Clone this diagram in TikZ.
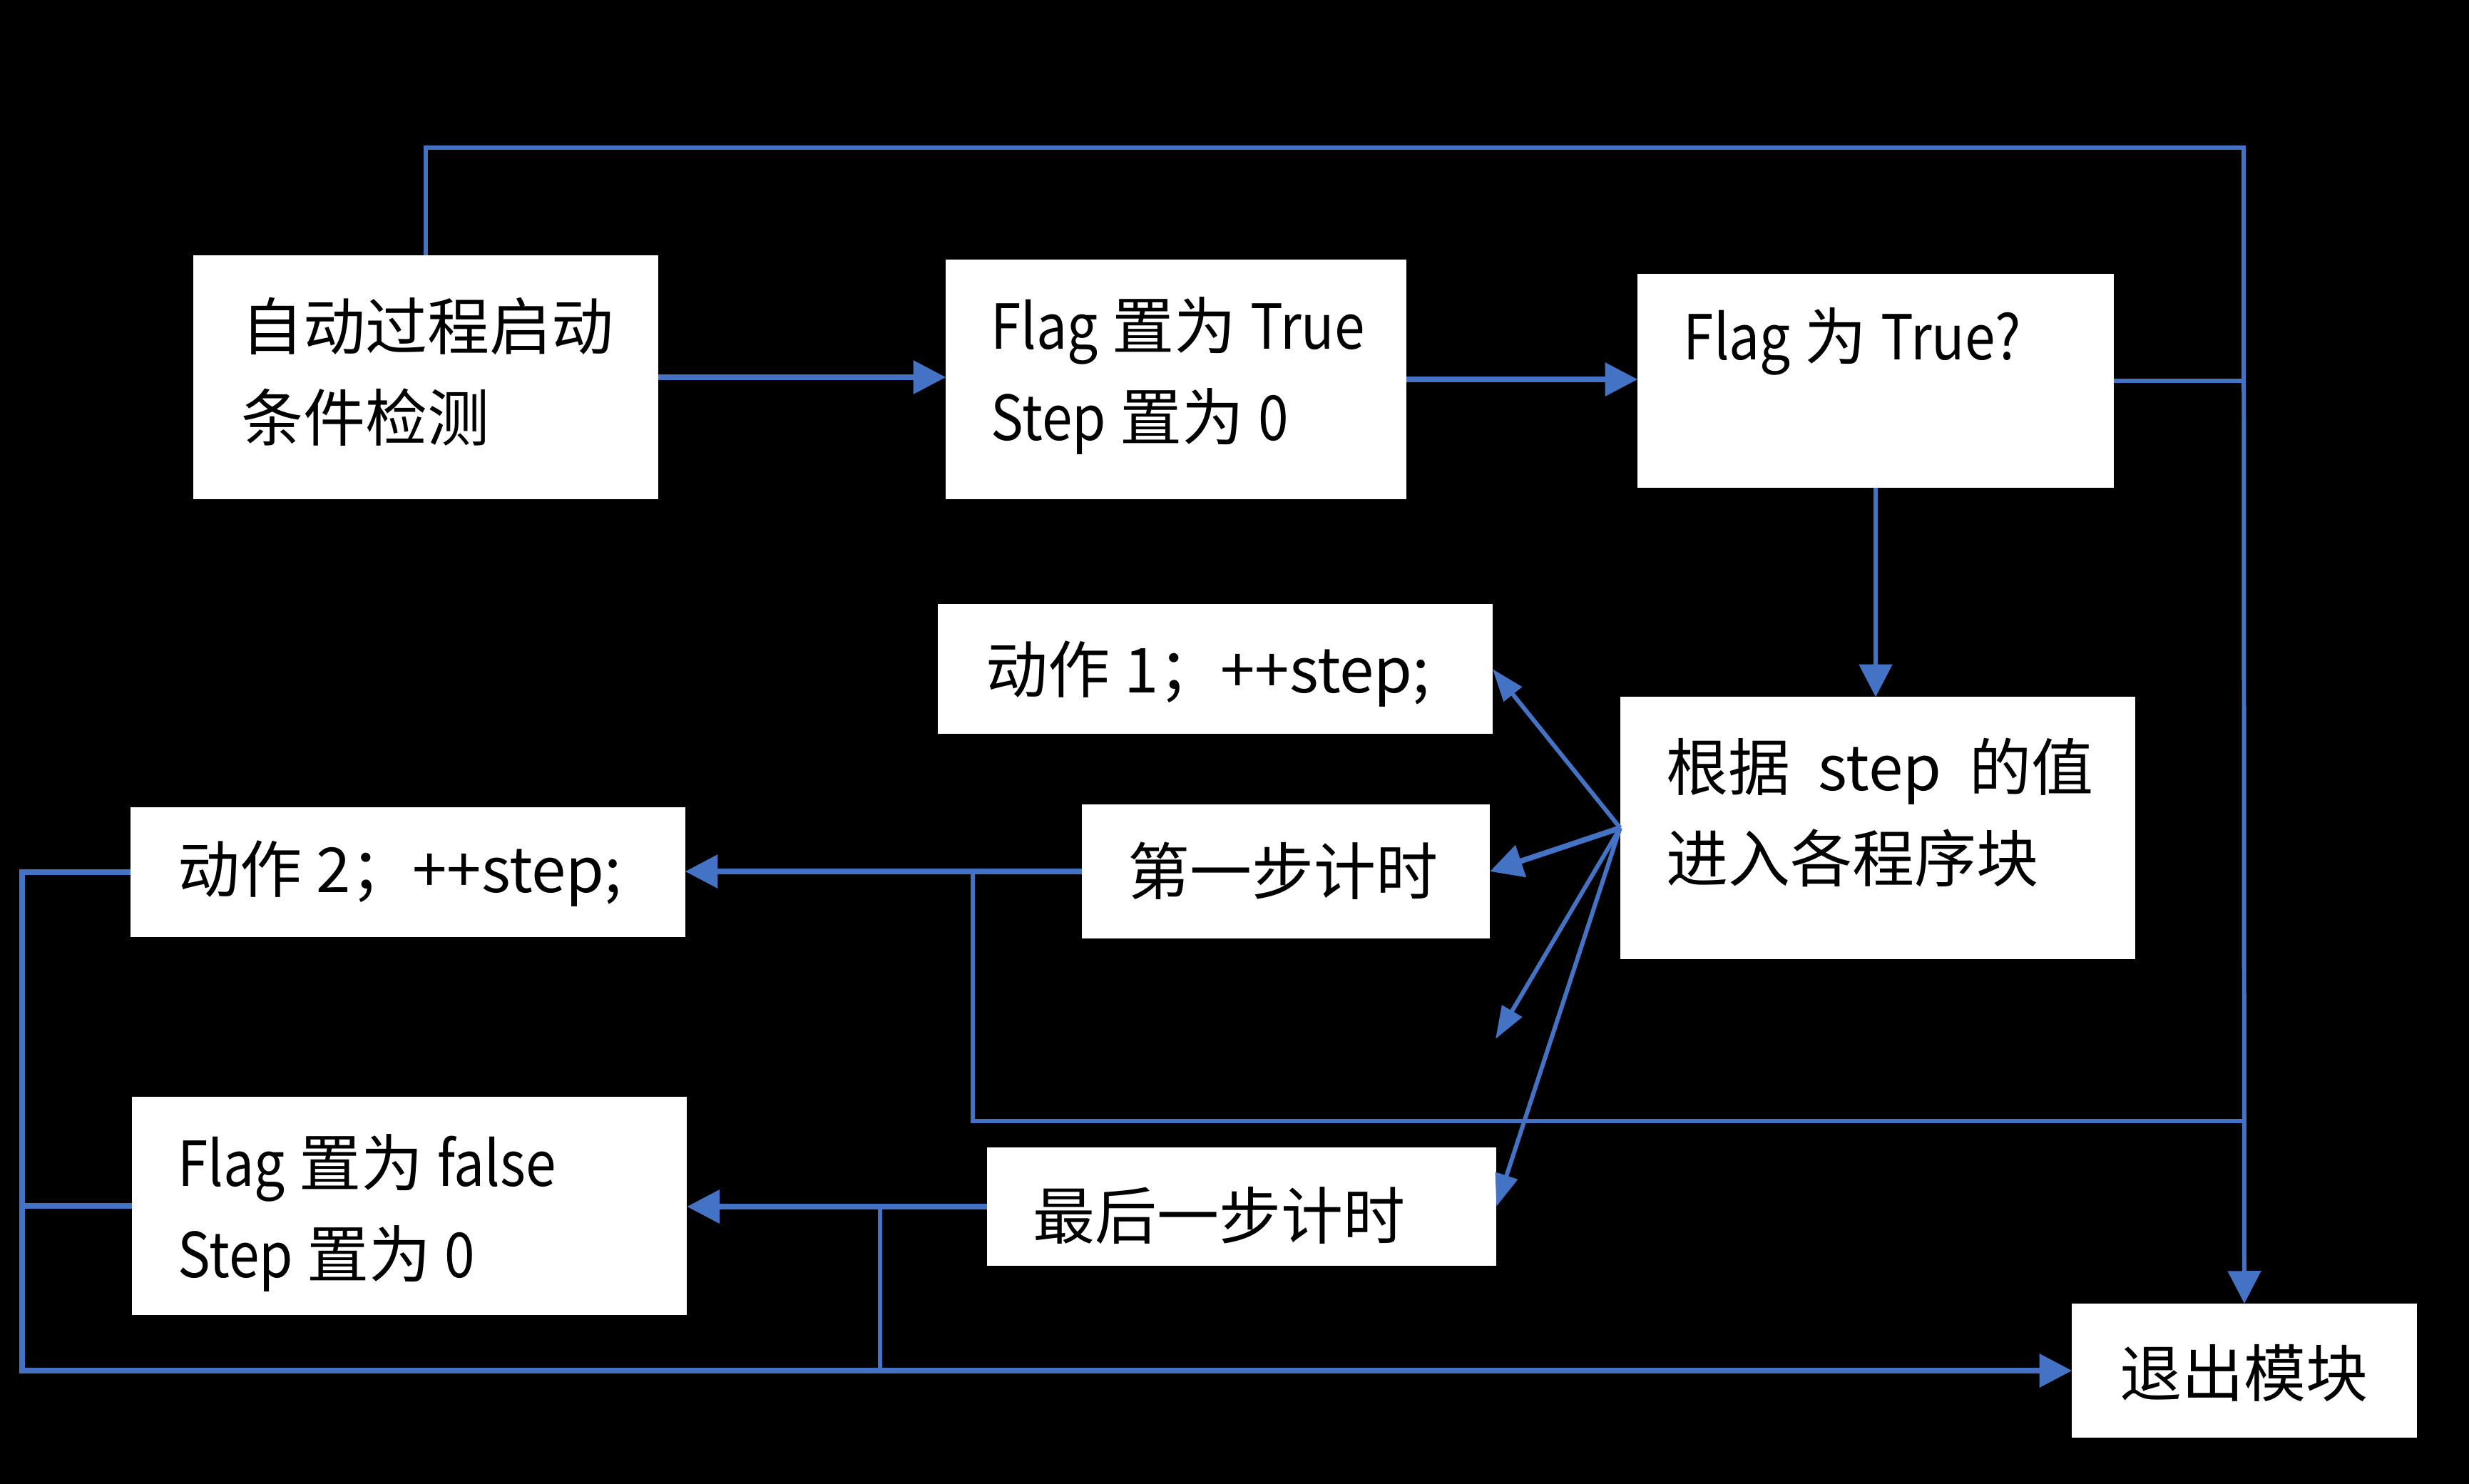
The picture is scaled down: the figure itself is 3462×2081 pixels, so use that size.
\documentclass[tikz,border=0pt]{standalone}
\usepackage{fontspec}
\setmainfont{Noto Sans CJK SC}
\newfontfamily\latn{Noto Sans CJK SC}[FakeStretch=0.88]
\usetikzlibrary{arrows.meta}
\definecolor{lineblue}{RGB}{68,114,196}
\begin{document}
\begin{tikzpicture}[x=0.01cm,y=-0.01cm,
  box/.style={fill=white,draw=none,inner sep=0pt,outer sep=0pt},
  txt/.style={anchor=west,inner sep=0pt,align=left,font=\fontsize{24.75pt}{36.4pt}\selectfont},
  ln/.style={draw=lineblue,line width=2.2pt},
  lnthin/.style={draw=lineblue,line width=1.7pt},
  arr/.style={-{Triangle[length=13pt,width=13pt]}},
  arrs/.style={-{Triangle[length=13pt,width=9pt]}}]
\fill[black] (0,0) rectangle (3462,2081);
\useasboundingbox (0,0) rectangle (3462,2081);
% boxes
\node[box,minimum width=6.51cm,minimum height=3.42cm] (A) at (597,529) {};
\node[box,minimum width=6.45cm,minimum height=3.36cm] (B) at (1649,532) {};
\node[box,minimum width=6.67cm,minimum height=3.00cm] (C) at (2630,534) {};
\node[box,minimum width=7.77cm,minimum height=1.81cm] (D) at (1704,938) {};
\node[box,minimum width=7.22cm,minimum height=3.67cm] (E) at (2633,1161) {};
\node[box,minimum width=7.77cm,minimum height=1.81cm] (F) at (572,1223) {};
\node[box,minimum width=5.72cm,minimum height=1.88cm] (G) at (1803,1222) {};
\node[box,minimum width=7.78cm,minimum height=3.05cm] (H) at (574,1691) {};
\node[box,minimum width=7.14cm,minimum height=1.65cm] (I) at (1741,1692) {};
\node[box,minimum width=4.83cm,minimum height=1.88cm] (J) at (3147,1922) {};
% texts
\node[txt] (tA) at (338,521) {自动过程启动\\条件检测};
\node[txt] (tB) at (1389,527) {{\latn Flag} 置为 {\latn True}\\{\latn Step} 置为 {\latn 0}};
\node[txt] (tC) at (2360,479) {{\latn Flag} 为 {\latn True?}};
\node[txt] (tD) at (1382,945) {动作 1；++step;};
\node[txt] (tE) at (2336,1139) {根据\ \ step\ \ 的值\\进入各程序块};
\node[txt] (tF) at (249,1225) {动作 2；++step;};
\node[txt] (tG) at (1581,1221) {第一步计时};
\node[txt] (tH) at (249,1701) {{\latn Flag} 置为 {\latn false}\\{\latn Step} 置为 {\latn 0}};
\node[txt] (tI) at (1448,1704) {最后一步计时};
\node[txt] (tJ) at (2972,1925) {退出模块};
% helper coordinates
\coordinate (topR) at (3146,207);
\coordinate (free3) at (2097,1457);
\coordinate (tg) at (1364,1222);
\coordinate (mid) at (3146,1572);
\coordinate (fl) at (31,1223);
\coordinate (ti) at (1234,1692);
% connectors
\draw[lnthin,arr] (A.north) |- (topR) -- (J.north);
\draw[ln,arr] (A.east) -- (A.east -| B.west);
\draw[ln,arr] (B.east) -- (B.east -| C.west);
\draw[lnthin] (C.east) -- (C.east -| J.north);
\draw[lnthin,arr] (C.south) -- (C.south |- E.north);
\draw[lnthin,arrs] (E.west) -- (D.east);
\draw[ln,arr] (E.west) -- (G.east);
\draw[lnthin,arrs] (E.west) -- (free3);
\draw[lnthin,arrs] (E.west) -- (I.east);
\draw[ln,arr] (G.west) -- (G.west -| F.east);
\draw[lnthin] (tg) |- (mid);
\draw[ln,arr] (F.west) -- (fl) |- (J.west);
\draw[ln] (H.west) -- (H.west -| fl);
\draw[ln,arr] (I.west) -- (I.west -| H.east);
\draw[lnthin] (ti) -- (ti |- J.west);
\end{tikzpicture}
\end{document}
